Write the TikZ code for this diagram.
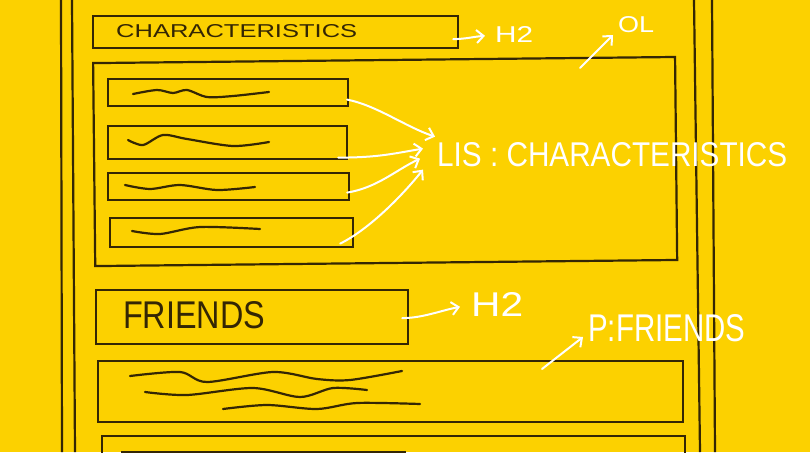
\documentclass[tikz,border=0pt]{standalone}
\usepackage{fontspec}
\setmainfont{Liberation Sans}
\usepackage{graphicx}
\usepackage{xcolor}
\usetikzlibrary{positioning,arrows.meta}
\definecolor{sketchyellow}{RGB}{252,209,0}
\definecolor{pencil}{RGB}{52,38,4}
\newcommand{\hand}[3]{\resizebox{#1pt}{#2pt}{#3}}

\begin{document}
\begin{tikzpicture}[
x=1pt,y=-1pt,
frame/.style={draw=pencil,line width=2.2pt,anchor=north west,inner sep=0pt},
scribble/.style={draw=pencil,line width=2.2pt,line cap=round},
tag/.style={text=white,anchor=south west,inner sep=0pt},
dark/.style={text=pencil,anchor=south west,inner sep=0pt},
pen/.style={draw=white,line width=2pt,line cap=round,-{Straight Barb[length=7pt,width=13pt,line width=2pt]}}
]
\fill[sketchyellow] (0,0) rectangle (810,452);
\useasboundingbox (0,0) rectangle (810,452);

% page edges
\draw[pencil,line width=2.2pt] (61,0) -- (62,452);
\draw[pencil,line width=2.2pt] (72,0) -- (75,452);
\draw[pencil,line width=2.2pt] (694,0) -- (700,452);
\draw[pencil,line width=2.2pt] (712,0) -- (715,452);

% wireframe blocks
\node[frame,minimum width=365pt,minimum height=32pt] (charbox) at (92,15) {};
\node[frame,minimum width=582pt,minimum height=203pt,rotate=0.6] (olbox) at (92,62) {};
\node[frame,minimum width=240pt,minimum height=27pt] (li1) at (107,78) {};
\node[frame,minimum width=239pt,minimum height=33pt] (li2) at (107,125) {};
\node[frame,minimum width=241pt,minimum height=27pt] (li3) at (107,172) {};
\node[frame,minimum width=243pt,minimum height=29pt] (li4) at (109,217) {};
\node[frame,minimum width=312pt,minimum height=54pt] (friendsbox) at (95,289) {};
\node[frame,minimum width=585pt,minimum height=61pt] (pbox) at (97,360) {};
\node[frame,minimum width=583pt,minimum height=60pt] (nextbox) at (101,435) {};
\node[frame,minimum width=283pt,minimum height=40pt] (innerbox) at (121,451) {};

% headings in the sketch
\node[dark] (chartext) at (116,38) {\hand{241}{13}{CHARACTERISTICS}};
\node[dark] (friendstext) at (123,329) {\hand{142}{27}{FRIENDS}};

% squiggles standing for text
\draw[scribble] plot[smooth] coordinates {(133,94) (157,90) (173,93) (187,90) (207,97) (233,96) (269,92)};
\draw[scribble] plot[smooth] coordinates {(128,140) (143,145) (163,135) (187,139) (233,146) (269,142)};
\draw[scribble] plot[smooth] coordinates {(125,185) (150,189) (180,185) (217,190) (255,187)};
\draw[scribble] plot[smooth] coordinates {(132,231) (160,234) (200,227) (260,229)};
\draw[scribble] plot[smooth] coordinates {(130,376) (180,372) (207,382) (273,372) (317,379) (350,380) (402,371)};
\draw[scribble] plot[smooth] coordinates {(145,392) (187,395) (253,388) (300,397) (333,388) (367,390)};
\draw[scribble] plot[smooth] coordinates {(223,409) (267,405) (317,409) (357,403) (420,404)};

% white notes
\node[tag] (h2top) at (495,43) {\hand{38}{16}{H2}};
\node[tag] (oltag) at (618,33) {\hand{36}{16}{OL}};
\node[tag] (listag) at (437,167) {\hand{350}{24}{LIS : CHARACTERISTICS}};
\node[tag] (h2bot) at (471,317) {\hand{52}{24}{H2}};
\node[tag] (ptag) at (588,342) {\hand{157}{27}{P:FRIENDS}};

\coordinate (olstart) at (580,68);
\coordinate (pstart) at (542,369);

\draw[pen] ([shift={(-6,7)}]charbox.east) .. controls +(12,0) and +(-12,1) .. ([shift={(-10,1)}]h2top.west);
\draw[pen] (olstart) -- ([shift={(-5,2)}]oltag.south west);
\draw[pen] ([shift={(-2,7)}]li1.east) .. controls +(30,6) and +(-30,-10) .. ([shift={(-2,-18)}]listag.west);
\draw[pen] ([shift={(-10,15)}]li2.east) .. controls +(40,0) and +(-30,5) .. ([shift={(-14,-6)}]listag.west);
\draw[pen] ([shift={(-3,6)}]li3.east) .. controls +(30,-5) and +(-25,12) .. ([shift={(-17,4)}]listag.west);
\draw[pen] ([shift={(-14,11)}]li4.east) .. controls +(30,-15) and +(-20,25) .. ([shift={(-14,15)}]listag.west);
\draw[pen] ([shift={(-7,1)}]friendsbox.east) .. controls +(20,0) and +(-20,4) .. ([shift={(-11,2)}]h2bot.west);
\draw[pen] (pstart) -- ([shift={(-5,-5)}]ptag.south west);
\end{tikzpicture}
\end{document}
